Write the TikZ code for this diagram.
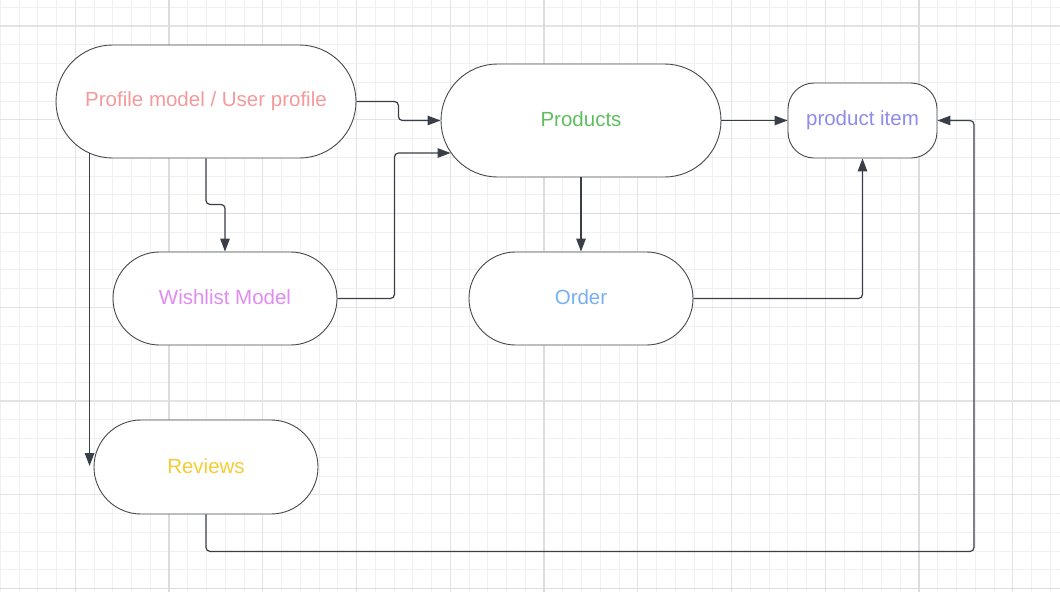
\documentclass[tikz,border=0pt]{standalone}
\usepackage{fontspec}
\setmainfont{Liberation Sans}
\usetikzlibrary{arrows.meta,calc}
\definecolor{gridminor}{HTML}{F0F0F0}
\definecolor{gridmed}{HTML}{E3E3E3}
\definecolor{gridmajor}{HTML}{DCDCDC}
\definecolor{boxline}{HTML}{45484D}
\definecolor{connline}{HTML}{3A3F47}
\definecolor{cprofile}{HTML}{F49A9C}
\definecolor{cproducts}{HTML}{5DC05D}
\definecolor{citem}{HTML}{8E8CEB}
\definecolor{cwish}{HTML}{E08CF2}
\definecolor{corder}{HTML}{78B0F0}
\definecolor{creviews}{HTML}{F5CC35}
\newcommand{\up}[1]{\raisebox{2.5pt}{#1}}
\begin{document}
\begin{tikzpicture}[x=1pt,y=-1pt,
  box/.style={draw=boxline, line width=0.9pt, fill=white, inner sep=0pt,
    font=\fontsize{20.5}{24}\selectfont},
  conn/.style={draw=connline, line width=1.2pt, rounded corners=4pt,
    -{Triangle[length=13pt,width=9.5pt]}}]
\useasboundingbox (0,0) rectangle (1060,592);
\fill[white] (0,0) rectangle (1060,592);
% grid
\foreach \k in {0,...,56} {\draw[gridminor, line width=1pt] ({0.25+\k*18.75},0) -- ({0.25+\k*18.75},592);}
\foreach \k in {0,...,31} {\draw[gridminor, line width=1pt] (0,{7.25+\k*18.75}) -- (1060,{7.25+\k*18.75});}
\foreach \k in {0,...,10} {\draw[gridmed, line width=1.2pt] ({75.25+\k*93.75},0) -- ({75.25+\k*93.75},592);}
\foreach \k in {0,...,6} {\draw[gridmed, line width=1.2pt] (0,{26+\k*93.75}) -- (1060,{26+\k*93.75});}
\foreach \x in {169,544,919} {\draw[gridmajor, line width=1.6pt] (\x,0) -- (\x,592);}
\foreach \y in {213.5,588.5} {\draw[gridmajor, line width=1.6pt] (0,\y) -- (1060,\y);}
% nodes
\node[box, text=cprofile, minimum width=300pt, minimum height=113pt, rounded corners=56.5pt] (prof) at (206,101.5) {\up{Profile model / User profile}};
\node[box, text=cproducts, minimum width=280pt, minimum height=113pt, rounded corners=56.5pt] (prod) at (581,120.5) {\up{Products}};
\node[box, text=citem, minimum width=149pt, minimum height=75pt, rounded corners=26pt] (item) at (862.5,120.5) {\up{product item}};
\node[box, text=cwish, minimum width=224pt, minimum height=93pt, rounded corners=46.5pt] (wish) at (225,298.5) {\up{Wishlist Model}};
\node[box, text=corder, minimum width=224pt, minimum height=93pt, rounded corners=46.5pt] (order) at (581,298.5) {\up{Order}};
\node[box, text=creviews, minimum width=224pt, minimum height=94pt, rounded corners=47pt] (rev) at (206,467) {\up{Reviews}};
% connectors
\draw[conn] (prof.east) -- ++(42,0) |- (prod.west);
\draw[conn] (wish.east) -- ++(57,0) |- ($(prod.west)+(10,32.5)$);
\draw[conn] (prof.south) -- ++(0,46) -| (wish.north);
\draw[conn] ($(prof.south west)+(34,-5)$) -- ($(rev.west)+(-4,-1)$);
\draw[conn] (prod.south) -- (order.north);
\draw[conn] (prod.east) -- (item.west);
\draw[conn] (order.east) -| (item.south);
\draw[conn] (rev.south) -- ++(0,37) -- ++(768,0) |- (item.east);
\end{tikzpicture}
\end{document}
